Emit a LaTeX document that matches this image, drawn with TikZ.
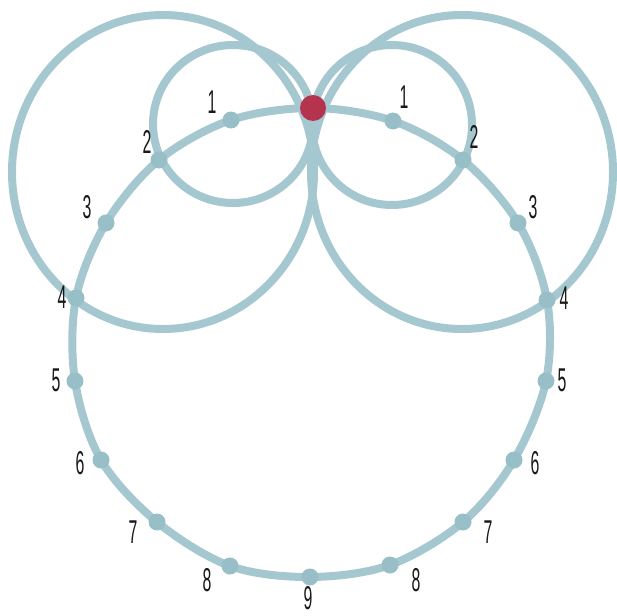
\documentclass[tikz,border=0pt]{standalone}
\usepackage{fontspec}
\newfontfamily\labfont[FakeStretch=0.48]{Liberation Sans}
\definecolor{lineblue}{RGB}{165,200,208}
\definecolor{dotblue}{RGB}{152,190,199}
\definecolor{reddot}{RGB}{180,52,78}
\begin{document}
\begin{tikzpicture}[x=1pt,y=-1pt,
  ring/.style={draw=lineblue, line width=8pt},
  dotc/.style={circle, fill=dotblue, inner sep=0pt, minimum size=17pt},
  lab/.style={font=\labfont\fontsize{33}{33}\selectfont, inner sep=0pt, text=black!90}]
\useasboundingbox (0,0) rectangle (617,615);
% circle centres
\coordinate (lbig) at (163,172);
\coordinate (rbig) at (462,172);
\coordinate (lsmall) at (233,124);
\coordinate (rsmall) at (392,125);
% outer circles
\draw[ring] (lbig) ellipse [x radius=151pt, y radius=157pt];
\draw[ring] (rbig) ellipse [x radius=151pt, y radius=157pt];
\draw[ring] (lsmall) ellipse [x radius=80pt, y radius=79pt];
\draw[ring] (rsmall) ellipse [x radius=80pt, y radius=80pt];
% point positions
\coordinate (top) at (313,108);
\coordinate (l1) at (231,120);
\coordinate (l2) at (159,160);
\coordinate (l3) at (106,223);
\coordinate (l4) at (76,298);
\coordinate (l5) at (75,381);
\coordinate (l6) at (101,460);
\coordinate (l7) at (157,522);
\coordinate (l8) at (230,566);
\coordinate (p9) at (310,577);
\coordinate (r8) at (390,565);
\coordinate (r7) at (463,522);
\coordinate (r6) at (514,460);
\coordinate (r5) at (546,381);
\coordinate (r4) at (547,300);
\coordinate (r3) at (518,223);
\coordinate (r2) at (463,160);
\coordinate (r1) at (393,121);
% main curve
\draw[ring] plot[smooth cycle, tension=0.55] coordinates {(top) (l1) (l2) (l3) (l4) (l5) (l6) (l7) (l8) (p9) (r8) (r7) (r6) (r5) (r4) (r3) (r2) (r1)};
% dots
\foreach \p in {l1,l2,l3,l4,l5,l6,l7,l8,p9,r8,r7,r6,r5,r4,r3,r2,r1}
  \node[dotc] (d\p) at (\p) {};
\node[circle, fill=reddot, inner sep=0pt, minimum size=26pt] (red) at (top) {};
% labels
\node[lab] (t1) at (212,102) {1};
\node[lab] (t2) at (147,142) {2};
\node[lab] (t3) at (87,207) {3};
\node[lab] (t4) at (62,297) {4};
\node[lab] (t5) at (56,380) {5};
\node[lab] (t6) at (80,463) {6};
\node[lab] (t7) at (133,532) {7};
\node[lab] (t8) at (207,580) {8};
\node[lab] (t9) at (308,598) {9};
\node[lab] (u1) at (404,97) {1};
\node[lab] (u2) at (474,137) {2};
\node[lab] (u3) at (533,207) {3};
\node[lab] (u4) at (564,298) {4};
\node[lab] (u5) at (562,380) {5};
\node[lab] (u6) at (535,463) {6};
\node[lab] (u7) at (488,532) {7};
\node[lab] (u8) at (416,580) {8};
\end{tikzpicture}
\end{document}
